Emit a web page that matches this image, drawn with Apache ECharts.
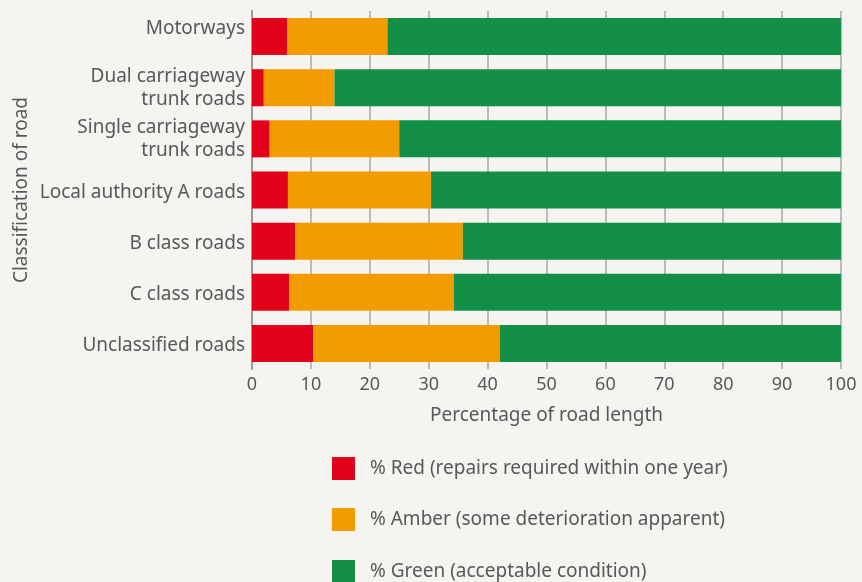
<!DOCTYPE html>
<html>
<head>
<meta charset="utf-8">
<style>
  html, body { margin: 0; padding: 0; background: #f5f4f0; }
  #chart { width: 862px; height: 582px; }
</style>
<script src="https://cdn.jsdelivr.net/npm/echarts@6/dist/echarts.min.js"></script>
</head>
<body>
<div id="chart"></div>
<script>
// 道路分类
var roadTypes = ['Motorways', 'Dual carriageway\ntrunk roads', 'Single carriageway\ntrunk roads',
  'Local authority A roads', 'B class roads', 'C class roads', 'Unclassified roads'];
// 三组百分比
var redData = [6, 2, 3, 6.1, 7.3, 6.3, 10.4];
var amberData = [17, 12, 22, 24.3, 28.5, 28, 31.7];
var greenData = [77, 86, 75, 69.6, 64.2, 65.7, 57.9];
var seriesNames = ['% Red (repairs required within one year)',
  '% Amber (some deterioration apparent)',
  '% Green (acceptable condition)'];
var xTicks = [0, 100, 10];

(function () {
  var myChart = echarts.init(document.getElementById('chart'));
  var textColor = '#58585a';
  var font = 'Noto Sans';
  // 图例每项单独放，避免竖排换列
  var legendTops = [457, 508, 560];
  var legends = seriesNames.map(function (n, i) {
    return {
      orient: 'vertical',
      left: 332,
      top: legendTops[i],
      padding: 0,
      itemWidth: 23,
      itemHeight: 23,
      icon: 'rect',
      textStyle: { color: textColor, fontSize: 19, fontFamily: font, padding: [0, 0, 0, 10] },
      data: [n]
    };
  });
  var lbl = { color: textColor, fontSize: 19, fontFamily: font, lineHeight: 23 };
  var option = {
    backgroundColor: '#f5f4f0',
    color: ['#e2001a', '#f39c00', '#138f48'],
    animation: false,
    grid: {
      left: 252,
      right: 21,
      top: 11,
      bottom: 213
    },
    legend: legends,
    xAxis: {
      type: 'value',
      min: xTicks[0],
      max: xTicks[1],
      interval: xTicks[2],
      name: 'Percentage of road length',
      nameLocation: 'middle',
      nameGap: 37,
      nameTextStyle: { color: textColor, fontSize: 19, fontFamily: font },
      axisLine: { show: false },
      axisTick: { show: false },
      axisLabel: { color: textColor, fontSize: 18, fontFamily: font, margin: 7 },
      // 网格竖线
      splitLine: {
        show: true,
        lineStyle: { color: '#a8a8a8', width: 1.5 }
      }
    },
    yAxis: {
      type: 'category',
      data: roadTypes,
      inverse: true,
      name: 'Classification of road',
      nameLocation: 'middle',
      nameGap: 221,
      nameMoveOverlap: false,
      nameRotate: 90,
      nameTextStyle: { color: textColor, fontSize: 19, fontFamily: font },
      axisLine: { show: true, lineStyle: { color: '#999999', width: 2 } },
      axisTick: { show: false },
      axisLabel: {
        color: textColor, fontSize: 19, fontFamily: font, margin: 7, lineHeight: 23,
        // 第一行标签略高，单行标签略低
        formatter: function (v, i) {
          if (i === 0) return '{up|' + v + '}';
          if (v.indexOf('\n') < 0) return '{down|' + v + '}';
          return v;
        },
        rich: {
          up: Object.assign({ padding: [0, 0, 16, 0] }, lbl),
          down: Object.assign({ padding: [5, 0, 0, 0] }, lbl)
        }
      }
    },
    series: [
      { name: seriesNames[0], type: 'bar', stack: 'total', barWidth: 37, data: redData },
      { name: seriesNames[1], type: 'bar', stack: 'total', barWidth: 37, data: amberData },
      { name: seriesNames[2], type: 'bar', stack: 'total', barWidth: 37, data: greenData }
    ]
  };
  myChart.setOption(option);
})();
</script>
</body>
</html>
